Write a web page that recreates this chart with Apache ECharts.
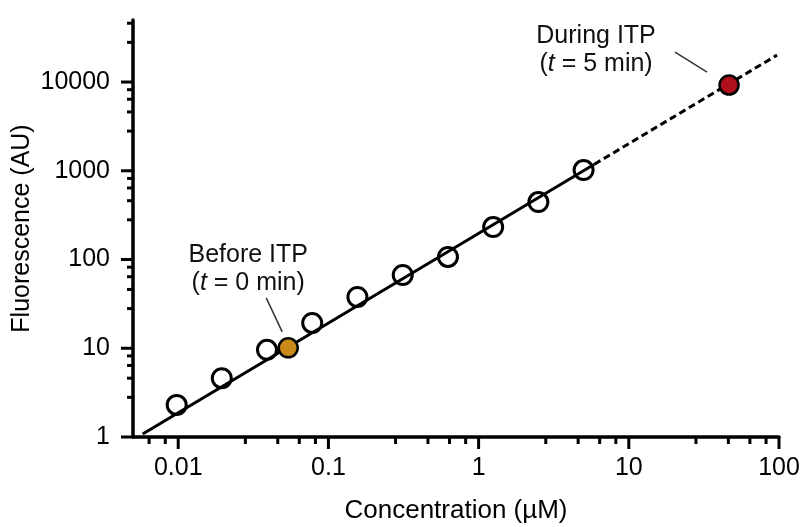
<!DOCTYPE html>
<html>
<head>
<meta charset="utf-8">
<script src="https://cdn.jsdelivr.net/npm/echarts@6/dist/echarts.min.js"></script>
<style>
  html, body { margin: 0; padding: 0; background: #fff; }
  #chart { width: 801px; height: 527px; }
</style>
</head>
<body>
<div id="chart"></div>
<script>
// Calibration series: two-fold dilutions (µM) and measured fluorescence (AU)
const concentration = [0.00977, 0.0195, 0.039, 0.078, 0.156, 0.3125, 0.625, 1.25, 2.5, 5];
const fluorescence = [2.3, 4.6, 9.6, 19.3, 37.8, 66.9, 107, 232, 444, 1019];

// Sample points before and during ITP: [concentration, fluorescence]
const beforeItp = [0.054, 10.1];
const duringItp = [46.5, 9250];

// Fitted power law: measured range (solid) and extrapolation (dashed)
const fitSolid = [[0.0058, 1.08], [5.9, 1185]];
const fitExtrapolated = [[5.9, 1185], [97, 20100]];

// Axis ranges and tick labels (by decade exponent)
const xRange = [0.005, 100];
const yRange = [1, 50000];
const xTickLabels = { '-2': '0.01', '-1': '0.1', '0': '1', '1': '10', '2': '100' };
const yTickLabels = { '0': '1', '1': '10', '2': '100', '3': '1000', '4': '10000' };
const xMajorTicks = [0.01, 0.1, 1, 10, 100];
const yMajorTicks = [1, 10, 100, 1000, 10000];
const xDecades = [0.001, 0.01, 0.1, 1, 10];
const yDecades = [1, 10, 100, 1000, 10000];
const minorSteps = [2.8, 4.6, 6.4, 8.2];

const FONT = '"Liberation Sans", Arial, Helvetica, sans-serif';
const FONT_SIZE = 25;
const INK = '#000';

function minorTicks(decades, range) {
  const out = [];
  decades.forEach(d => minorSteps.forEach(s => {
    const v = d * s;
    if (v > range[0] && v < range[1]) out.push(v);
  }));
  return out;
}

function decadeLabel(table) {
  return function (v) {
    const lg = Math.log10(v);
    const e = Math.round(lg);
    if (Math.abs(lg - e) > 1e-6) return '';
    return table[String(e)] || '';
  };
}

const xTickData = xMajorTicks.map(v => [v, yRange[0], 12])
  .concat(minorTicks(xDecades, xRange).map(v => [v, yRange[0], 7]));
const yTickData = yMajorTicks.map(v => [xRange[0], v, 12])
  .concat(minorTicks(yDecades, yRange).map(v => [xRange[0], v, 6]));

const chart = echarts.init(document.getElementById('chart'), null, { renderer: 'canvas' });

const option = {
  animation: false,
  backgroundColor: '#ffffff',
  grid: {
    left: 133, right: 22, top: 20, bottom: 90,
    containLabel: false, outerBoundsMode: 'none'
  },
  xAxis: {
    type: 'log',
    logBase: 10,
    min: xRange[0],
    max: xRange[1],
    name: 'Concentration (µM)',
    nameLocation: 'middle',
    nameGap: 61,
    nameTextStyle: { color: INK, fontSize: FONT_SIZE + 1, fontFamily: FONT },
    axisLine: { show: true, onZero: false, lineStyle: { color: INK, width: 3.5 } },
    axisTick: { show: false },
    splitLine: { show: false },
    minorTick: { show: false },
    axisLabel: {
      show: true, margin: 19, color: INK, fontSize: FONT_SIZE, fontFamily: FONT,
      formatter: decadeLabel(xTickLabels), hideOverlap: false
    }
  },
  yAxis: {
    type: 'log',
    logBase: 10,
    min: yRange[0],
    max: yRange[1],
    name: 'Fluorescence (AU)',
    nameLocation: 'middle',
    nameGap: 98,
    nameMoveOverlap: false,
    nameTextStyle: { color: INK, fontSize: FONT_SIZE, fontFamily: FONT },
    axisLine: { show: true, onZero: false, lineStyle: { color: INK, width: 3.5 } },
    axisTick: { show: false },
    splitLine: { show: false },
    minorTick: { show: false },
    axisLabel: {
      show: true, margin: 23, color: INK, fontSize: FONT_SIZE, fontFamily: FONT,
      formatter: decadeLabel(yTickLabels), hideOverlap: false
    }
  },
  series: [
    {
      name: 'x ticks',
      type: 'custom',
      silent: true,
      clip: false,
      data: xTickData,
      renderItem: function (params, api) {
        const p = api.coord([api.value(0), api.value(1)]);
        return {
          type: 'line',
          shape: { x1: p[0], y1: p[1], x2: p[0], y2: p[1] + api.value(2) },
          style: { stroke: INK, lineWidth: 3 }
        };
      },
      z: 1
    },
    {
      name: 'y ticks',
      type: 'custom',
      silent: true,
      clip: false,
      data: yTickData,
      renderItem: function (params, api) {
        const p = api.coord([api.value(0), api.value(1)]);
        return {
          type: 'line',
          shape: { x1: p[0], y1: p[1], x2: p[0] - api.value(2), y2: p[1] },
          style: { stroke: INK, lineWidth: 3 }
        };
      },
      z: 1
    },
    {
      name: 'fit',
      type: 'line',
      data: fitSolid,
      symbol: 'none',
      lineStyle: { color: INK, width: 3 },
      z: 2
    },
    {
      name: 'extrapolation',
      type: 'line',
      data: fitExtrapolated,
      symbol: 'none',
      lineStyle: { color: INK, width: 3, type: [7, 4] },
      z: 2
    },
    {
      name: 'calibration',
      type: 'scatter',
      data: concentration.map((c, i) => [c, fluorescence[i]]),
      symbol: 'circle',
      symbolSize: 19,
      itemStyle: { color: 'rgba(255,255,255,0)', borderColor: INK, borderWidth: 3, opacity: 1 },
      z: 3
    },
    {
      name: 'Before ITP',
      type: 'scatter',
      data: [beforeItp],
      symbol: 'circle',
      symbolSize: 19,
      itemStyle: { color: '#c98a1a', borderColor: INK, borderWidth: 2.5, opacity: 1 },
      z: 4
    },
    {
      name: 'During ITP',
      type: 'scatter',
      data: [duringItp],
      symbol: 'circle',
      symbolSize: 19,
      itemStyle: { color: '#b0101b', borderColor: INK, borderWidth: 2.5, opacity: 1 },
      z: 4
    }
  ]
};

chart.setOption(option);

// Annotations placed relative to the highlighted samples
function annotation(point, textOffset, lineFrom, lineTo, text) {
  const p = chart.convertToPixel({ gridIndex: 0 }, point);
  return [
    {
      type: 'text',
      x: p[0] + textOffset[0],
      y: p[1] + textOffset[1],
      z: 10,
      style: {
        text: text,
        fill: '#111',
        fontSize: FONT_SIZE,
        fontFamily: FONT,
        align: 'center',
        verticalAlign: 'middle',
        lineHeight: 28,
        rich: {
          i: { fontStyle: 'italic', fontSize: FONT_SIZE, fontFamily: FONT, fill: '#111' }
        }
      }
    },
    {
      type: 'line',
      z: 10,
      shape: {
        x1: p[0] + lineFrom[0], y1: p[1] + lineFrom[1],
        x2: p[0] + lineTo[0], y2: p[1] + lineTo[1]
      },
      style: { stroke: '#333', lineWidth: 1.5 }
    }
  ];
}

chart.setOption({
  graphic: {
    elements: []
      .concat(annotation(beforeItp, [-40, -79], [-22, -50], [-6, -16], 'Before ITP\n({i|t} = 0 min)'))
      .concat(annotation(duringItp, [-133, -35], [-54, -33], [-22, -13], 'During ITP\n({i|t} = 5 min)'))
  }
});
</script>
</body>
</html>
